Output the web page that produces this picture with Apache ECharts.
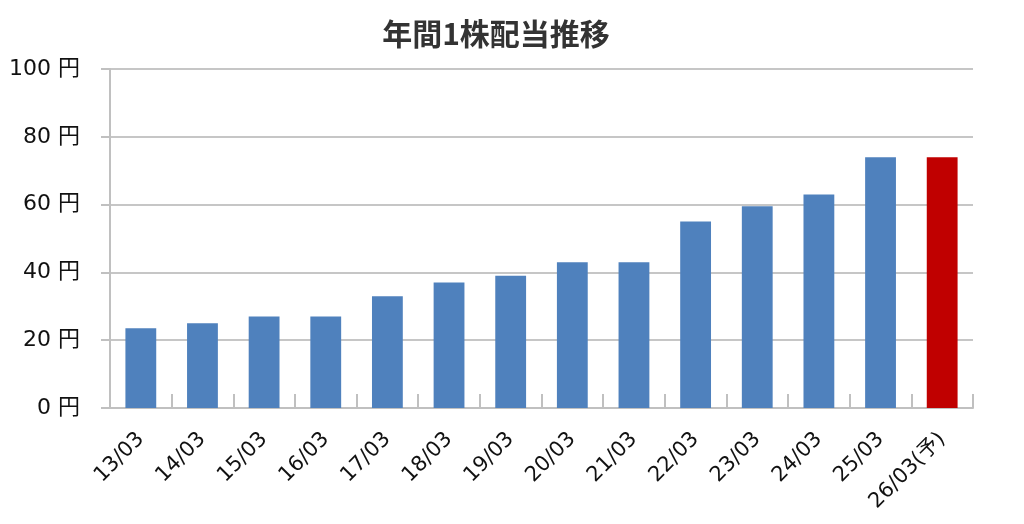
<!DOCTYPE html>
<html>
<head>
<meta charset="utf-8">
<script src="https://cdn.jsdelivr.net/npm/echarts@6/dist/echarts.min.js"></script>
<style>
html,body{margin:0;padding:0;background:#fff;}
#chart{width:1024px;height:524px;}
</style>
</head>
<body>
<div id="chart"></div>
<script>
const titleText = '年間1株配当推移';
const categories = ['13/03','14/03','15/03','16/03','17/03','18/03','19/03','20/03','21/03','22/03','23/03','24/03','25/03','26/03(予)'];
const dividends = [23.5, 25, 27, 27, 33, 37, 39, 43, 43, 55, 59.5, 63, 74, 74];
const yTicks = [0, 20, 40, 60, 80, 100];

const FONT = '"DejaVu Sans", "Noto Sans CJK JP", sans-serif';
const chart = echarts.init(document.getElementById('chart'), null, {renderer: 'canvas'});
chart.setOption({
  animation: false,
  backgroundColor: '#ffffff',
  title: {
    text: titleText,
    left: 491,
    top: 14,
    textAlign: 'center',
    textStyle: {fontFamily: '"Noto Sans CJK JP", sans-serif', fontSize: 30, fontWeight: 'bold', color: '#333333'}
  },
  grid: {left: 110, right: 51, top: 69, bottom: 116, containLabel: false},
  xAxis: {
    type: 'category',
    data: categories,
    boundaryGap: true,
    axisLine: {show: true, lineStyle: {color: '#c0c0c0', width: 2}},
    axisTick: {show: true, inside: true, length: 14, alignWithLabel: false, lineStyle: {color: '#c0c0c0', width: 2}},
    axisLabel: {rotate: 45, margin: 28, interval: 0, fontFamily: FONT, fontSize: 21, color: '#111111'},
    splitLine: {show: false}
  },
  yAxis: {
    type: 'value',
    min: yTicks[0],
    max: yTicks[yTicks.length - 1],
    interval: yTicks[1] - yTicks[0],
    axisLine: {show: true, lineStyle: {color: '#c0c0c0', width: 2}},
    axisTick: {show: true, inside: false, length: 9, lineStyle: {color: '#c0c0c0', width: 2}},
    axisLabel: {margin: 30, fontFamily: FONT, fontSize: 22, color: '#111111', formatter: v => v + ' 円'},
    splitLine: {show: true, lineStyle: {color: '#c6c6c6', width: 2}}
  },
  series: [{
    type: 'bar',
    barWidth: '50%',
    data: dividends.map((v, i) => i === dividends.length - 1 ? {value: v, itemStyle: {color: '#c00000'}} : v),
    itemStyle: {color: '#4f81bd'}
  }]
});
</script>
</body>
</html>
